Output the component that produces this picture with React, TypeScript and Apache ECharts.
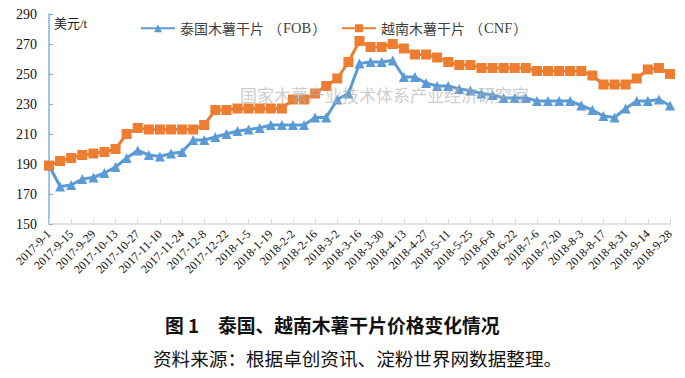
import React, { useEffect, useRef } from "react";
import * as echarts from "echarts";

const categories: string[] = [
  "2017-9-1", "2017-9-8", "2017-9-15", "2017-9-22", "2017-9-29",
  "2017-10-6", "2017-10-13", "2017-10-20", "2017-10-27",
  "2017-11-3", "2017-11-10", "2017-11-17", "2017-11-24",
  "2017-12-1", "2017-12-8", "2017-12-15", "2017-12-22", "2017-12-29",
  "2018-1-5", "2018-1-12", "2018-1-19", "2018-1-26",
  "2018-2-2", "2018-2-9", "2018-2-16", "2018-2-23",
  "2018-3-2", "2018-3-9", "2018-3-16", "2018-3-23", "2018-3-30",
  "2018-4-6", "2018-4-13", "2018-4-20", "2018-4-27",
  "2018-5-4", "2018-5-11", "2018-5-18", "2018-5-25",
  "2018-6-1", "2018-6-8", "2018-6-15", "2018-6-22", "2018-6-29",
  "2018-7-6", "2018-7-13", "2018-7-20", "2018-7-27",
  "2018-8-3", "2018-8-10", "2018-8-17", "2018-8-24", "2018-8-31",
  "2018-9-7", "2018-9-14", "2018-9-21", "2018-9-28",
];

const thaiFOB: number[] = [
  189, 175, 176, 180, 181, 184, 188, 194, 199, 196,
  195, 197, 198, 206, 206, 208, 210, 212, 213, 214,
  216, 216, 216, 216, 221, 221, 233, 237, 257, 258,
  258, 259, 248, 248, 244, 242, 242, 240, 239, 237,
  236, 234, 234, 234, 232, 232, 232, 232, 229, 226,
  222, 221, 227, 232, 232, 233, 229,
];

const vietCNF: number[] = [
  189, 192, 194, 196, 197, 198, 200, 210, 214, 213,
  213, 213, 213, 213, 216, 226, 226, 227, 227, 227,
  227, 227, 233, 233, 237, 242, 247, 258, 272, 268,
  268, 270, 267, 263, 263, 261, 258, 256, 256, 254,
  254, 254, 254, 254, 252, 252, 252, 252, 252, 249,
  243, 243, 243, 247, 253, 254, 250,
];

const seriesNames: string[] = ["泰国木薯干片（FOB）", "越南木薯干片（CNF）"];
const unitLabel = "美元/t";
const watermark = "国家木薯产业技术体系产业经济研究室";
const captionTitle = "图 1　泰国、越南木薯干片价格变化情况";
const captionSource = "资料来源：根据卓创资讯、淀粉世界网数据整理。";

const BLUE = "#5B9BD5";
const ORANGE = "#ED7D31";
const SERIF = "'Liberation Serif', 'Noto Sans CJK SC', serif";
const CJK = "'Noto Sans CJK SC', sans-serif";

function legendFormatter(name: string): string {
  const m = name.match(/^(.*)（(.*)）$/);
  if (!m) return name;
  return `{c|${m[1]}}{o|（}{l|${m[2]}}{e|）}`;
}

export default function App() {
  const ref = useRef<HTMLDivElement>(null);
  useEffect(() => {
    if (!ref.current) return;
    const chart = echarts.init(ref.current, undefined, { renderer: "svg" });
    const base = { fontSize: 14, color: "#404040", fontFamily: CJK };
    const legendText = {
      ...base,
      rich: {
        c: { ...base },
        o: { ...base, padding: [0, 1, 0, 4] },
        e: { ...base, padding: [0, 4, 0, 1] },
        l: { ...base, fontFamily: SERIF, fontSize: 14.5 },
      },
    };
    chart.setOption({
      animation: false,
      backgroundColor: "#ffffff",
      grid: { left: 49, right: 15, top: 14, bottom: 154, containLabel: false },
      legend: [
        {
          data: [seriesNames[0]],
          left: 135,
          top: 16,
          itemWidth: 34,
          itemHeight: 10,
          formatter: legendFormatter,
          textStyle: legendText,
        },
        {
          data: [seriesNames[1]],
          left: 336,
          top: 16,
          itemWidth: 34,
          itemHeight: 10,
          formatter: legendFormatter,
          textStyle: legendText,
        },
      ],
      xAxis: {
        type: "category",
        data: categories,
        boundaryGap: false,
        axisLine: { show: true, lineStyle: { color: "#d9d9d9", width: 1.5 } },
        axisTick: {
          show: true,
          inside: true,
          interval: 1,
          length: 5,
          lineStyle: { color: "#d9d9d9" },
        },
        axisLabel: {
          interval: 1,
          rotate: 45,
          margin: 8,
          fontSize: 12,
          color: "#111",
          fontFamily: SERIF,
        },
        splitLine: { show: false },
      },
      yAxis: {
        type: "value",
        min: 150,
        max: 290,
        interval: 20,
        axisLine: { show: true, lineStyle: { color: "#7fb0dd", width: 1.5 } },
        axisTick: { show: true, inside: true, length: 4, lineStyle: { color: "#7fb0dd" } },
        axisLabel: { fontSize: 14, color: "#111", fontFamily: SERIF, margin: 12 },
        splitLine: { show: false },
      },
      series: [
        {
          name: seriesNames[0],
          type: "line",
          data: thaiFOB,
          color: BLUE,
          symbol: "triangle",
          symbolSize: 10,
          showAllSymbol: true,
          lineStyle: { width: 3, color: BLUE },
          itemStyle: { color: BLUE },
          z: 3,
        },
        {
          name: seriesNames[1],
          type: "line",
          data: vietCNF,
          color: ORANGE,
          symbol: "rect",
          symbolSize: 10,
          showAllSymbol: true,
          lineStyle: { width: 3, color: ORANGE },
          itemStyle: { color: ORANGE },
          z: 4,
        },
      ],
      graphic: [
        {
          type: "text",
          left: 54,
          top: 17,
          style: { text: unitLabel, fontSize: 13, fill: "#222", fontFamily: SERIF },
        },
        {
          type: "text",
          left: 240,
          top: 86,
          z: 10,
          style: {
            text: watermark,
            fontSize: 17,
            fill: "rgba(175,175,175,0.65)",
            fontFamily: CJK,
          },
        },
        {
          type: "text",
          left: 165,
          top: 315,
          style: {
            text: captionTitle,
            fontSize: 18.8,
            fontWeight: "bold",
            fill: "#111",
            fontFamily: CJK,
          },
        },
        {
          type: "text",
          left: 153,
          top: 348,
          style: {
            text: captionSource,
            fontSize: 18.6,
            fill: "#111",
            fontFamily: CJK,
          },
        },
      ],
    });
    return () => chart.dispose();
  }, []);
  return <div ref={ref} style={{ width: 685, height: 378, margin: "-8px" }} />;
}
